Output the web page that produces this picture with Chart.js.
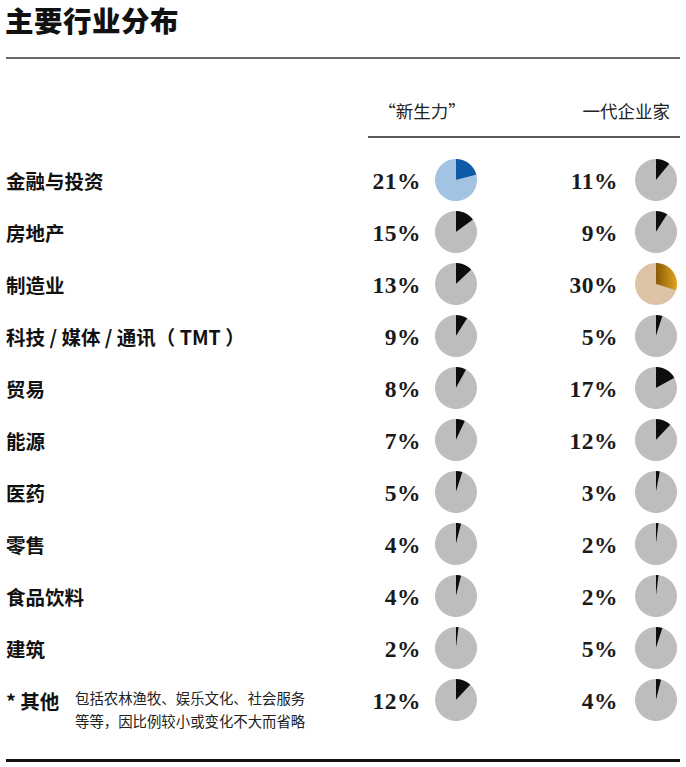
<!DOCTYPE html>
<html><head><meta charset="utf-8">
<script src="https://cdn.jsdelivr.net/npm/chart.js@4"></script>
<style>
html,body{margin:0;padding:0;background:#fff;}
body{width:686px;height:767px;position:relative;overflow:hidden;font-family:"Noto Sans CJK SC","Noto Sans",sans-serif;color:#111;}
.abs{position:absolute;white-space:nowrap;}
#title{left:5px;top:0px;font-size:28.5px;font-weight:900;line-height:40px;letter-spacing:0.5px;}
.rule{position:absolute;}
.hdr{font-size:17.5px;line-height:24px;color:#222;}
.lab{left:6px;font-size:19.5px;font-weight:700;line-height:26px;transform:translateY(-50%);}
.pct{font-family:"Liberation Serif","DejaVu Serif",serif;font-weight:700;font-size:23.5px;line-height:26px;letter-spacing:0.5px;transform:translate(-100%,-50%);color:#1a1a1a;}
.note{font-size:14.4px;line-height:23px;color:#222;}
canvas.pie{position:absolute;}
</style></head>
<body>
<div id="title" class="abs">主要行业分布</div>
<div class="rule" style="left:6px;top:57px;width:674px;height:2px;background:#6a6a6a;"></div>
<div class="abs hdr" id="h1" style="top:99px;"></div>
<div class="abs hdr" id="h2" style="top:99px;"></div>
<div class="rule" style="left:368px;top:136px;width:312px;height:2px;background:#5a5a5a;"></div>
<div class="rule" style="left:6px;top:759px;width:674px;height:3px;background:#111;"></div>
<div id="rows"></div>
<script>
// ---- data ----
const categories = ['金融与投资','房地产','制造业','科技 / 媒体 / 通讯（ TMT ）','贸易','能源','医药','零售','食品饮料','建筑','其他'];
const seriesNames = ['“新生力”','一代企业家'];
const newForce = [21,15,13,9,8,7,5,4,4,2,12];
const firstGen = [11,9,30,5,17,12,3,2,2,5,4];
const otherNote = ['包括农林渔牧、娱乐文化、社会服务','等等，因比例较小或变化不大而省略'];

// ---- layout / styles ----
const rowY0 = 180, rowStep = 52;
const pieCX = [456, 656], pctRight = [421, 618];
const pieR = 21;
const grey = '#bdbdbd', dark = '#0d0d0d';
const accents = [
  {base:'#a3c3e3', slice:'#0f5aa6'},
  {base:'#ddc3a6', gradient:['#8a5a06','#e2a51e']}
];
const series = [newForce, firstGen];

const h1 = document.getElementById('h1'); h1.textContent = seriesNames[0];
h1.style.left = '422px'; h1.style.transform = 'translateX(-50%)';
const h2 = document.getElementById('h2'); h2.textContent = seriesNames[1];
h2.style.left = '670px'; h2.style.transform = 'translateX(-100%)';

const rows = document.getElementById('rows');
categories.forEach((cat, i) => {
  const y = rowY0 + i * rowStep;
  const lab = document.createElement('div');
  lab.className = 'abs lab';
  lab.style.top = (y + 1) + 'px';
  if (cat === '其他') {
    lab.innerHTML = '* ' + cat;
    lab.style.top = (y + 1) + 'px';
    const n = document.createElement('div');
    n.className = 'abs note';
    n.style.left = '75px';
    n.style.transform = 'translateY(-50%)';
    n.innerHTML = otherNote[0] + '<br>' + otherNote[1];
    n.style.top = (y + 9) + 'px';
    rows.appendChild(n);
  } else lab.textContent = cat;
  rows.appendChild(lab);

  series.forEach((arr, s) => {
    const v = arr[i];
    const isMax = v === Math.max(...arr);
    const p = document.createElement('div');
    p.className = 'abs pct';
    p.style.left = pctRight[s] + 'px';
    p.style.top = (y + 1) + 'px';
    p.textContent = v + '%';
    rows.appendChild(p);

    const cv = document.createElement('canvas');
    cv.className = 'pie';
    const sz = pieR * 2;
    cv.width = sz; cv.height = sz;
    cv.style.width = sz + 'px'; cv.style.height = sz + 'px';
    cv.style.left = (pieCX[s] - pieR) + 'px';
    cv.style.top = (y - pieR) + 'px';
    rows.appendChild(cv);
    const acc = accents[s];
    let bg;
    if (!isMax) bg = [dark, grey];
    else if (acc.gradient) {
      bg = (c) => {
        if (c.dataIndex === 1) return acc.base;
        const ch = c.chart, a = ch.chartArea;
        if (!a) return acc.gradient[0];
        const cx = (a.left + a.right) / 2;
        const g = ch.ctx.createLinearGradient(cx, 0, a.right, 0);
        g.addColorStop(0, acc.gradient[0]);
        g.addColorStop(1, acc.gradient[1]);
        return g;
      };
    } else bg = [acc.slice, acc.base];
    new Chart(cv, {
      type: 'pie',
      data: {
        labels: [cat, '其余'],
        datasets: [{
          data: [v, 100 - v],
          backgroundColor: bg,
          borderWidth: 0
        }]
      },
      options: {
        responsive: false,
        animation: false,
        events: [],
        devicePixelRatio: 2,
        layout: {padding: 0},
        plugins: {legend: {display: false}, tooltip: {enabled: false}}
      }
    });
  });
});
</script>
</body></html>
